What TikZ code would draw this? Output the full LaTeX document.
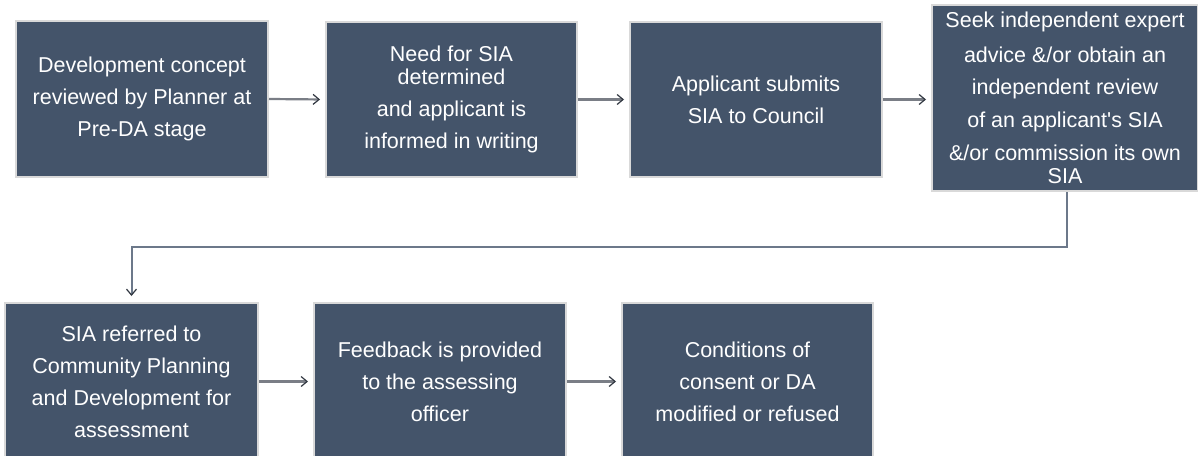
\documentclass[tikz,border=0pt]{standalone}
\usepackage{fontspec}
\setmainfont{Liberation Sans}
\usetikzlibrary{arrows.meta}
\definecolor{boxfill}{RGB}{68,84,106}
\definecolor{boxline}{RGB}{217,217,217}
\definecolor{arrcol}{RGB}{122,126,134}
\definecolor{elbowcol}{RGB}{108,120,138}
\definecolor{tipcol}{RGB}{50,56,66}
\begin{document}
\begin{tikzpicture}[x=1pt,y=-1pt,
  box/.style={draw=boxline,line width=2pt,fill=boxfill,text=white,align=center,
    inner sep=0pt,font=\fontsize{21.5}{32}\selectfont},
  conn/.style={draw=arrcol,line width=2.2pt,
    -{Straight Barb[length=6pt,width=10pt,line width=1.2pt,color=tipcol]},shorten >=5pt},
  elbow/.style={draw=elbowcol,line width=2pt,
    -{Straight Barb[length=6pt,width=10pt,line width=1.2pt,color=tipcol]},shorten >=6pt}]
\useasboundingbox (0,0) rectangle (1198,455);
% top row
\node[box,minimum width=252pt,minimum height=156pt] (b1) at (142,99)
  {Development concept\\ reviewed by Planner at\\ Pre-DA stage};
\node[box,minimum width=251pt,minimum height=155pt] (b2) at (451.5,99.5)
  {Need for SIA\\[-8.5pt] determined\\ and applicant is\\ informed in writing};
\node[box,minimum width=252pt,minimum height=155pt] (b3) at (756,99.5)
  {Applicant submits\\ SIA to Council};
\node[box,minimum width=266pt,minimum height=186pt] (b4) at (1065,98)
  {Seek independent expert\\[3pt] advice \&/or obtain an\\ independent review\\[1pt]
   of an applicant\textquotesingle s SIA\\[1pt] \&/or commission its own\\[-9pt] SIA};
% bottom row
\node[box,minimum width=253pt,minimum height=157pt] (b5) at (131.5,381.5)
  {SIA referred to\\ Community Planning\\ and Development for\\ assessment};
\node[box,minimum width=252pt,minimum height=157pt] (b6) at (440,381.5)
  {Feedback is provided\\ to the assessing\\ officer};
\node[box,minimum width=251pt,minimum height=157pt] (b7) at (747.5,381.5)
  {Conditions of\\ consent or DA\\ modified or refused};
% connectors
\draw[conn] (b1.east) -- (b2.west);
\draw[conn] (b2.east) -- (b3.west);
\draw[conn] (b3.east) -- (b4.west |- b3.east);
\coordinate (turn) at (1067,247);
\draw[elbow] (b4.south -| turn) -- (turn) -| (b5.north);
\draw[conn] (b5.east) -- (b6.west);
\draw[conn] (b6.east) -- (b7.west);
\end{tikzpicture}
\end{document}
